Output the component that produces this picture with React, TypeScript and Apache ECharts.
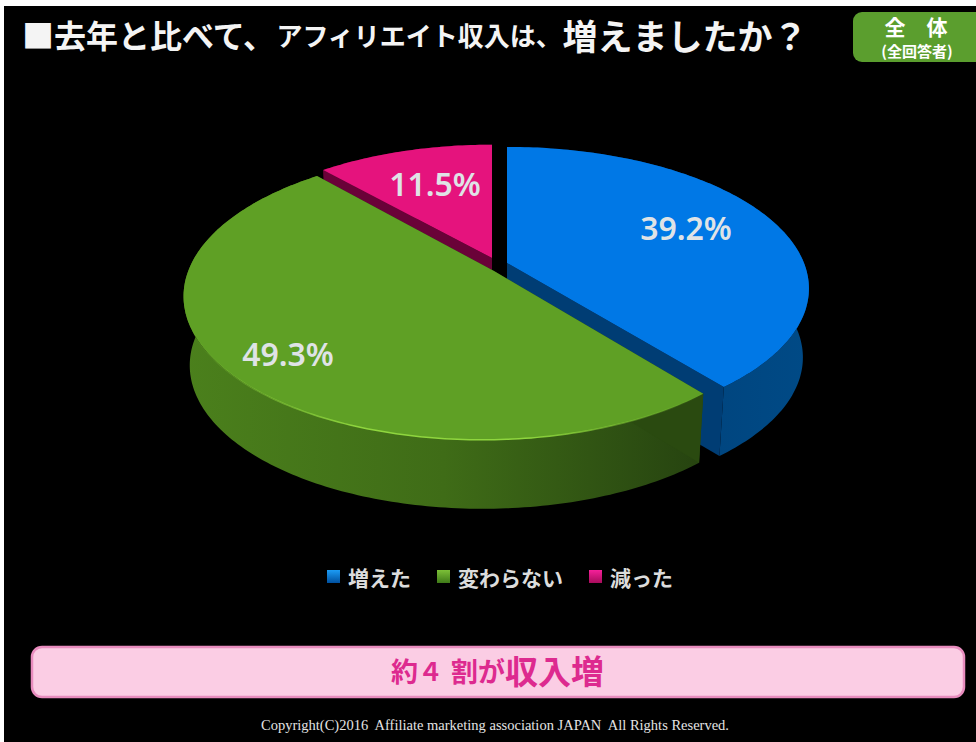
import React, { useEffect, useRef } from "react";
import * as echarts from "echarts";

const categories = ["増えた", "変わらない", "減った"];
const values = [39.2, 49.3, 11.5];
const valueLabels = ["39.2%", "49.3%", "11.5%"];
const drawOrder = [0, 2, 1];

const topColors = ["#0078e6", "#5fa025", "#e5137d"];
const radialColors = ["#003d74", "#2a4a10", "#6a0238"];
const wallStops = [
  ["#012d5a", "#00437c", "#004a86"],
  ["#4b801c", "#3f6c17", "#264310"],
  ["#6a0238", "#6a0238", "#6a0238"],
];
// Projection of each exploded slice: the apex and the perspective of the flat disc.
const views = [
  { apex: [507, 263], sx: 297, sy: 137, k: 0.18, m: 0 },
  { apex: [494, 271], sx: 296, sy: 140, k: 0.17, m: 0.032 },
  { apex: [492, 258], sx: 285, sy: 131, k: 0.156, m: 0 },
];
const labelCenters = [
  [686, 227],
  [288, 353],
  [435, 183],
];

const DEPTH = 69;
const BOTTOM_SCALE = 0.98;

function project(deg: number, idx: number, bottom: boolean) {
  const { apex, sx, sy, k, m } = views[idx];
  const t = (deg * Math.PI) / 180;
  const u = Math.sin(t);
  const v = -Math.cos(t);
  const w = 1 - k * v + m * u;
  const dx = (sx * u) / w;
  const dy = (sy * v) / w;
  return bottom
    ? [apex[0] + dx * BOTTOM_SCALE, apex[1] + dy + DEPTH]
    : [apex[0] + dx, apex[1] + dy];
}

function arc(a: number, b: number, idx: number, bottom: boolean) {
  const n = Math.max(2, Math.ceil(Math.abs(b - a)));
  const out: number[][] = [];
  for (let i = 0; i <= n; i++) out.push(project(a + ((b - a) * i) / n, idx, bottom));
  return out;
}

const hGrad = (stops: string[]) => ({
  type: "linear",
  x: 0,
  y: 0,
  x2: 1,
  y2: 0,
  colorStops: stops.map((c, i) => ({ offset: i / (stops.length - 1), color: c })),
});

function makeRenderItem(idx: number) {
  return (_params: any, api: any) => {
    const value = api.value(0);
    const startValue = api.value(1);
    const a = (startValue / 100) * 360;
    const b = ((startValue + value) / 100) * 360;
    const apex = views[idx].apex;
    const top = arc(a, b, idx, false);
    const bot = arc(a, b, idx, true);
    const band = top.concat(bot.slice().reverse());
    const apexBottom = [apex[0], apex[1] + DEPTH];
    const children: any[] = [
      { type: "polygon", shape: { points: band }, style: { fill: hGrad(wallStops[idx]) } },
      {
        type: "polygon",
        shape: { points: [apex, top[0], bot[0], apexBottom] },
        style: { fill: radialColors[idx] },
      },
      {
        type: "polygon",
        shape: { points: [apex, top[top.length - 1], bot[bot.length - 1], apexBottom] },
        style: { fill: radialColors[idx] },
      },
      { type: "polygon", shape: { points: [apex].concat(top) }, style: { fill: topColors[idx] } },
    ];
    if (idx === 1) {
      children.push({
        type: "polyline",
        shape: { points: arc(b - 55, a, idx, false) },
        style: {
          fill: "none",
          lineWidth: 1.5,
          stroke: hGrad(["rgba(140,214,60,0)", "#8fd63e", "#8fd63e", "rgba(140,214,60,0)"]),
        },
      });
    }
    children.push({
      type: "text",
      style: {
        x: labelCenters[idx][0],
        y: labelCenters[idx][1],
        text: valueLabels[idx],
        fill: "#dfe3e6",
        font: '600 32px "Noto Sans"',
        align: "center",
        verticalAlign: "middle",
      },
    });
    return { type: "group", children };
  };
}

const starts = values.map((_, i) => values.slice(0, i).reduce((s, v) => s + v, 0));

const legendIcon = (c: string, d: string) => ({
  color: { type: "linear", x: 0, y: 0, x2: 0, y2: 1, colorStops: [{ offset: 0, color: c }, { offset: 1, color: d }] },
});

export default function App() {
  const ref = useRef<HTMLDivElement>(null);
  useEffect(() => {
    const chart = echarts.init(ref.current!, null, { renderer: "svg" });
    const jp = '"Noto Sans CJK JP"';
    chart.setOption({
      animation: false,
      backgroundColor: "transparent",
      title: {
        left: 22,
        top: 13,
        padding: 0,
        text: "{a|■去年と比べて、}{b|アフィリエイト収入は、}{c|増えましたか？}",
        textStyle: {
          rich: {
            a: { fontFamily: jp, fontWeight: "bold", fontSize: 32, color: "#f4f4f4", height: 42 },
            b: { fontFamily: jp, fontWeight: "bold", fontSize: 26, color: "#f4f4f4", height: 42 },
            c: { fontFamily: jp, fontWeight: "bold", fontSize: 35, color: "#f4f4f4", height: 42 },
          },
        },
      },
      legend: {
        left: 327,
        top: 566,
        padding: 0,
        itemGap: 26,
        itemWidth: 13,
        itemHeight: 13,
        icon: "rect",
        selectedMode: false,
        textStyle: {
          fontFamily: jp,
          fontWeight: "bold",
          fontSize: 21,
          color: "#dcdcdc",
          padding: [0, 0, 0, 3],
        },
        data: categories.map((name, i) => ({
          name,
          itemStyle: legendIcon(["#1c9cf5", "#7cc038", "#f5209a"][i], ["#00509f", "#3f7a18", "#a80c5c"][i]),
        })),
      },
      series: drawOrder.map((i) => ({
        type: "custom",
        name: categories[i],
        coordinateSystem: "none",
        silent: true,
        itemStyle: { color: topColors[i] },
        renderItem: makeRenderItem(i),
        data: [[values[i], starts[i]]],
      })),
      graphic: [
        {
          type: "rect",
          shape: { x: 853, y: 12, width: 135, height: 50, r: 9 },
          style: { fill: "#5b9e2e" },
        },
        {
          type: "text",
          style: {
            x: 916, y: 26, text: "全　体", fill: "#fff", align: "center", verticalAlign: "middle",
            font: `bold 21px ${jp}`,
          },
        },
        {
          type: "text",
          style: {
            x: 917, y: 50, text: "(全回答者)", fill: "#fff", align: "center", verticalAlign: "middle",
            font: `bold 15px ${jp}`,
          },
        },
        {
          type: "rect",
          shape: { x: 32, y: 647, width: 932, height: 50, r: 10 },
          style: { fill: "#fbcde4", stroke: "#e88cbe", lineWidth: 2.5 },
        },
        {
          type: "text",
          x: 391,
          y: 649,
          style: {
            text: "{s|約}{n|４}{s|割が}{l|収入増}",
            rich: {
              s: { fontFamily: jp, fontWeight: "bold", fontSize: 27, fill: "#dd2a8f", height: 42 },
              n: { fontFamily: jp, fontWeight: "bold", fontSize: 25, fill: "#dd2a8f", height: 42, padding: [0, 8, 0, 0] },
              l: { fontFamily: jp, fontWeight: "bold", fontSize: 33, fill: "#dd2a8f", height: 42 },
            },
          },
        },
        {
          type: "text",
          style: {
            x: 495, y: 725, text: "Copyright(C)2016  Affiliate marketing association JAPAN  All Rights Reserved.",
            fill: "#e4e4e4", align: "center", verticalAlign: "middle",
            font: '14.5px "Liberation Serif"',
          },
        },
      ],
    });
    return () => chart.dispose();
  }, []);
  return (
    <div style={{ position: "fixed", left: 0, top: 0, width: 976, height: 742, background: "#fff" }}>
      <div style={{ position: "absolute", left: 4, top: 6, right: 0, bottom: 0, background: "#000" }} />
      <div ref={ref} style={{ position: "absolute", left: 0, top: 0, width: 976, height: 742 }} />
    </div>
  );
}
